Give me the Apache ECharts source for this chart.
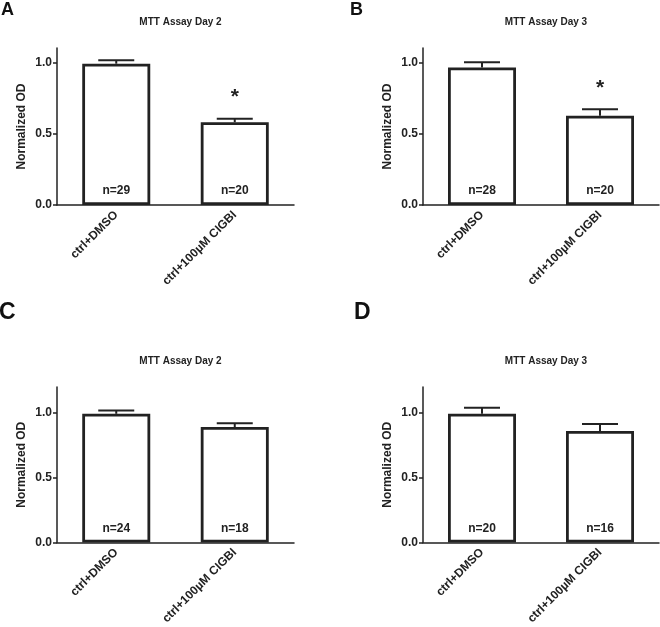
<!DOCTYPE html>
<html>
<head>
<meta charset="utf-8">
<script src="https://cdn.jsdelivr.net/npm/echarts@6/dist/echarts.min.js"></script>
<style>
html,body{margin:0;padding:0;background:#fff;}
#chart{width:660px;height:627px;}
</style>
</head>
<body>
<div id="chart"></div>
<script>
// ---- data ----
const categories = ['ctrl+DMSO', 'ctrl+100µM CIGBI'];
const panelLetters = ['A', 'B', 'C', 'D'];
const panelTitles = ['MTT Assay Day 2', 'MTT Assay Day 3', 'MTT Assay Day 2', 'MTT Assay Day 3'];
const yTicks = [0, 0.5, 1.0];
const yMaxA = 1.1, yMaxB = 1.1, yMaxC = 1.2, yMaxD = 1.2;

const meanA = [0.99, 0.58];
const errA = [0.025, 0.025];
const nA = [29, 20];
const sigA = ['', '*'];

const meanB = [0.963, 0.625];
const errB = [0.037, 0.046];
const nB = [28, 20];
const sigB = ['', '*'];

const meanC = [0.993, 0.891];
const errC = [0.025, 0.03];
const nC = [24, 18];
const sigC = ['', ''];

const meanD = [0.993, 0.861];
const errD = [0.046, 0.053];
const nD = [20, 16];
const sigD = ['', ''];

// ---- layout ----
const panels = [
  {mean: meanA, err: errA, n: nA, sig: sigA, ymax: yMaxA, grid: {left: 57, top: 48, width: 237, height: 157}, letter: [1, 1], lsize: 18},
  {mean: meanB, err: errB, n: nB, sig: sigB, ymax: yMaxB, grid: {left: 423, top: 48, width: 236, height: 157}, letter: [350, 1], lsize: 18},
  {mean: meanC, err: errC, n: nC, sig: sigC, ymax: yMaxC, grid: {left: 57, top: 387, width: 237, height: 157}, letter: [-1, 301], lsize: 23},
  {mean: meanD, err: errD, n: nD, sig: sigD, ymax: yMaxD, grid: {left: 423, top: 387, width: 236, height: 157}, letter: [354, 301], lsize: 23}
];

const FONT = '"Liberation Sans", Arial, Helvetica, sans-serif';
const INK = '#222';

const grids = [], xAxes = [], yAxes = [], series = [], titles = [], graphics = [];

panels.forEach((p, i) => {
  grids.push(Object.assign({containLabel: false}, p.grid));
  titles.push({
    text: panelTitles[i],
    left: p.grid.left + p.grid.width / 2,
    top: p.grid.top - 36,
    textAlign: 'center',
    textStyle: {fontFamily: FONT, fontSize: 10, fontWeight: 'bold', color: INK}
  });
  graphics.push({
    type: 'text', left: p.letter[0], top: p.letter[1],
    style: {text: panelLetters[i], font: 'bold ' + p.lsize + 'px ' + FONT, fill: '#111'}
  });
  xAxes.push({
    type: 'category', gridIndex: i, data: categories,
    axisLine: {lineStyle: {color: INK, width: 1.5}},
    axisTick: {alignWithLabel: true, length: 4, lineStyle: {color: INK, width: 1.5}},
    axisLabel: {rotate: 45, interval: 0, margin: 8, fontFamily: FONT, fontSize: 12, fontWeight: 'bold', color: INK}
  });
  yAxes.push({
    type: 'value', gridIndex: i, min: 0, max: p.ymax, interval: 0.5,
    name: 'Normalized OD', nameLocation: 'middle', nameGap: 29,
    nameTextStyle: {fontFamily: FONT, fontSize: 12, fontWeight: 'bold', color: INK},
    splitLine: {show: false},
    axisLine: {show: true, lineStyle: {color: INK, width: 1.5}},
    axisTick: {show: true, length: 4, customValues: yTicks, lineStyle: {color: INK, width: 1.5}},
    axisLabel: {customValues: yTicks, margin: 5, formatter: v => v.toFixed(1),
      fontFamily: FONT, fontSize: 12, fontWeight: 'bold', color: INK}
  });
  series.push({
    type: 'bar', xAxisIndex: i, yAxisIndex: i, data: p.mean, barWidth: 68,
    itemStyle: {color: '#fff', borderColor: INK, borderWidth: 2.8},
    label: {show: true, position: 'insideBottom', distance: 8,
      formatter: params => 'n=' + p.n[params.dataIndex],
      fontFamily: FONT, fontSize: 12, fontWeight: 'bold', color: INK},
    silent: true, animation: false
  });
  series.push({
    type: 'custom', xAxisIndex: i, yAxisIndex: i,
    data: p.mean.map((m, k) => [k, m, p.err[k]]),
    renderItem: (params, api) => {
      const k = api.value(0), m = api.value(1), e = api.value(2);
      const base = api.coord([k, m]);
      const top = api.coord([k, m + e]);
      const half = 18;
      const children = [
        {type: 'line', shape: {x1: base[0], y1: base[1], x2: top[0], y2: top[1]}, style: {stroke: INK, lineWidth: 2}},
        {type: 'line', shape: {x1: top[0] - half, y1: top[1], x2: top[0] + half, y2: top[1]}, style: {stroke: INK, lineWidth: 2}}
      ];
      const s = p.sig[k];
      if (s) {
        children.push({type: 'text', style: {text: s, x: top[0], y: top[1] - 21, align: 'center', verticalAlign: 'middle',
          font: 'bold 21px ' + FONT, fill: INK}});
      }
      return {type: 'group', children};
    },
    z: 3, silent: true, animation: false
  });
});

const chart = echarts.init(document.getElementById('chart'), null, {renderer: 'canvas'});
chart.setOption({
  backgroundColor: '#fff',
  animation: false,
  title: titles,
  grid: grids,
  xAxis: xAxes,
  yAxis: yAxes,
  series: series,
  graphic: graphics
});
</script>
</body>
</html>
